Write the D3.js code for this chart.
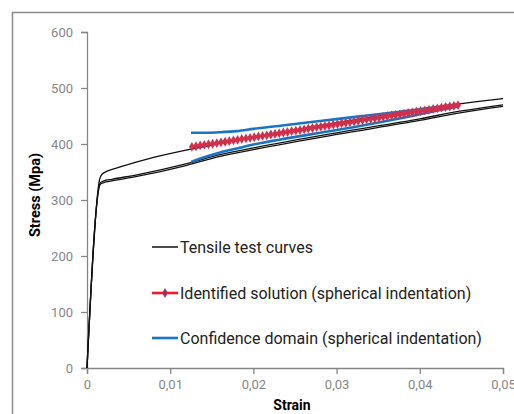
<!DOCTYPE html>
<html>
<head>
<meta charset="utf-8">
<script src="https://cdn.jsdelivr.net/npm/d3@7"></script>
<style>
  body { margin: 0; background: #fff; }
  svg { display: block; }
  text { font-family: Roboto, "Liberation Sans", sans-serif; }
</style>
</head>
<body>
<svg id="svg" width="514" height="414"></svg>
<script>
// tensile test curves (strain, stress)
var tensileStrain1 = [0, 0.0015, 0.0018, 0.0025, 0.004, 0.008, 0.0125, 0.02, 0.03, 0.04, 0.045, 0.05];
var tensileStress1 = [0, 336, 346, 352, 359, 376, 391, 412, 438, 461, 472, 481];
var tensileStrain2 = [0, 0.0016, 0.002, 0.003, 0.006, 0.012, 0.016, 0.02, 0.03, 0.04, 0.045, 0.05];
var tensileStress2 = [0, 331, 334, 337, 345, 365, 381, 393, 420, 445, 459, 470];
var tensileStrain3 = [0, 0.0016, 0.002, 0.003, 0.006, 0.012, 0.016, 0.02, 0.03, 0.04, 0.045, 0.05];
var tensileStress3 = [0, 328, 331, 334, 342, 362, 378, 390, 417, 442, 456, 467];

// identified solution (spherical indentation)
var identStrain = [0.0126, 0.0131, 0.0136, 0.0141, 0.0146, 0.0151, 0.0156, 0.0161, 0.0166, 0.0171,
  0.0176, 0.0181, 0.0186, 0.0191, 0.0196, 0.0201, 0.0206, 0.0211, 0.0216, 0.0221,
  0.0226, 0.0231, 0.0236, 0.0241, 0.0246, 0.0251, 0.0256, 0.0261, 0.0266, 0.0271,
  0.0276, 0.0281, 0.0286, 0.0291, 0.0296, 0.0301, 0.0306, 0.0311, 0.0316, 0.0321,
  0.0326, 0.0331, 0.0336, 0.0341, 0.0346, 0.0351, 0.0356, 0.0361, 0.0366, 0.0371,
  0.0376, 0.0381, 0.0386, 0.0391, 0.0396, 0.0401, 0.0406, 0.0411, 0.0416, 0.0421,
  0.0426, 0.0431, 0.0436, 0.0441, 0.0446];
var identStress = [395, 396, 397.5, 398.5, 399.5, 400.5, 401.5, 403, 404, 405,
  406.5, 407.5, 409, 410, 411, 412, 413.5, 414.5, 415.5, 417,
  418, 419, 420.5, 421.5, 423, 424, 425, 426, 427.5, 428.5,
  430, 431, 432, 433, 434.5, 435.5, 437, 438, 439, 440,
  441.5, 442.5, 444, 445, 446, 447, 448.5, 449.5, 451, 452,
  453, 454, 455.5, 456.5, 458, 459, 460, 461, 462.5, 463.5,
  465, 466, 467, 468, 469.5];

// confidence domain (spherical indentation)
var confStrain = [0.0125, 0.014, 0.016, 0.018, 0.02, 0.024, 0.028, 0.032, 0.036, 0.04, 0.0445];
var confUpper = [420, 420, 421, 423, 427, 434, 441, 448, 455, 462, 471];
var confLower = [368, 376, 385, 392, 399, 410, 420, 430, 441, 453, 467];

var xTicks = [0, 0.01, 0.02, 0.03, 0.04, 0.05];
var xTickLabels = ["0", "0,01", "0,02", "0,03", "0,04", "0,05"];
var yTicks = [0, 100, 200, 300, 400, 500, 600];

var legendLabels = ["Tensile test curves", "Identified solution (spherical indentation)", "Confidence domain (spherical indentation)"];

var svg = d3.select('#svg');
var grey = "#868686";

// outer frame
svg.append("rect")
  .attr("x", 12.5).attr("y", 12.5)
  .attr("width", 520).attr("height", 420)
  .attr("fill", "none").attr("stroke", "#8c8c8c").attr("stroke-width", 1.5);

var x = d3.scaleLinear().domain([0, 0.05]).range([87, 503]);
var y = d3.scaleLinear().domain([0, 600]).range([368, 32]);

var xAxis = svg.append("g")
  .attr("transform", "translate(0," + y(0) + ")")
  .call(d3.axisBottom(x).tickValues(xTicks).tickSizeOuter(0).tickSize(6).tickPadding(6)
    .tickFormat(function(d, i) { return xTickLabels[i]; }));
var yAxis = svg.append("g")
  .attr("transform", "translate(" + x(0) + ",0)")
  .call(d3.axisLeft(y).tickValues(yTicks).tickSizeOuter(0).tickSize(6).tickPadding(8));

[xAxis, yAxis].forEach(function(a) {
  a.select(".domain").attr("stroke", grey).attr("stroke-width", 1.3);
  a.selectAll(".tick line").attr("stroke", grey).attr("stroke-width", 1.3);
  a.selectAll(".tick text").attr("fill", grey).attr("font-size", 13)
    .style("font-family", "Roboto, sans-serif");
});

svg.append("text")
  .attr("x", 292).attr("y", 410)
  .attr("text-anchor", "middle")
  .attr("font-size", 14).attr("font-weight", "bold")
  .text("Strain");
svg.append("text")
  .attr("transform", "translate(40,195) rotate(-90)")
  .attr("text-anchor", "middle")
  .attr("font-size", 14.5).attr("font-weight", "bold")
  .text("Stress (Mpa)");

function zip(a, b) { return a.map(function(d, i) { return [d, b[i]]; }); }

var smooth = d3.line()
  .x(function(d) { return x(d[0]); })
  .y(function(d) { return y(d[1]); })
  .curve(d3.curveMonotoneX);

var plot = svg.append("g");

[[tensileStrain1, tensileStress1], [tensileStrain2, tensileStress2], [tensileStrain3, tensileStress3]]
  .forEach(function(s) {
    plot.append("path")
      .attr("d", smooth(zip(s[0], s[1])))
      .attr("fill", "none").attr("stroke", "#111").attr("stroke-width", 1.3);
  });

[confUpper, confLower].forEach(function(s) {
  plot.append("path")
    .attr("d", smooth(zip(confStrain, s)))
    .attr("fill", "none").attr("stroke", "#1a74c4").attr("stroke-width", 2.6);
});

var ident = zip(identStrain, identStress);
plot.append("path")
  .attr("d", smooth(ident))
  .attr("fill", "none").attr("stroke", "#ee1c2a").attr("stroke-width", 2.6);

var diamond = d3.symbol().type(d3.symbolDiamond).size(28);
plot.selectAll(".mk").data(ident).enter()
  .append("path")
  .attr("class", "mk")
  .attr("transform", function(d) { return "translate(" + x(d[0]) + "," + y(d[1]) + ")"; })
  .attr("d", diamond)
  .attr("fill", "#d0304c");

// legend
var legendColors = ["#111", "#ee1c2a", "#1a74c4"];
var legendY = [247, 293, 338];
var leg = svg.append("g");
legendLabels.forEach(function(l, i) {
  leg.append("line")
    .attr("x1", 152).attr("x2", 178)
    .attr("y1", legendY[i]).attr("y2", legendY[i])
    .attr("stroke", legendColors[i]).attr("stroke-width", i == 0 ? 1.5 : 2.6);
  if (i == 1) {
    leg.append("path")
      .attr("transform", "translate(165," + legendY[i] + ")")
      .attr("d", diamond).attr("fill", "#9c3060");
  }
  leg.append("text")
    .attr("x", 180).attr("y", legendY[i] + 6)
    .attr("font-size", 16).attr("fill", "#222")
    .text(l);
});
</script>
</body>
</html>
